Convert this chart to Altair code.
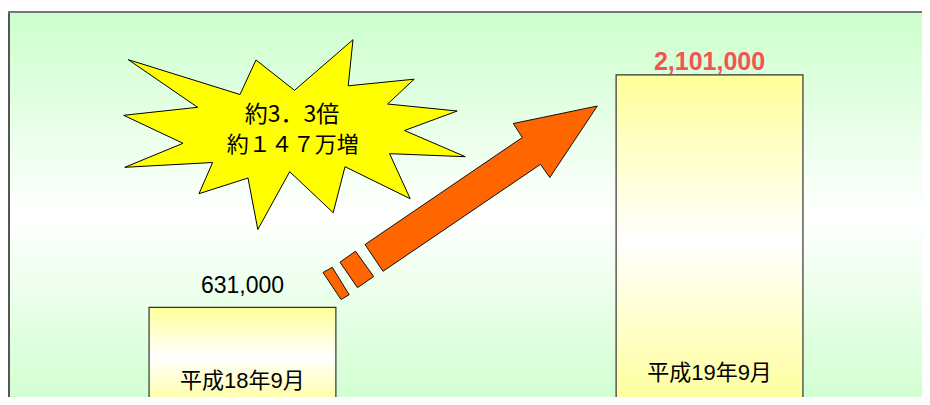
import altair as alt
import pandas as pd

# ---- data ----
categories = ["平成18年9月", "平成19年9月"]
values = [631000, 2101000]
value_labels = ["631,000", "2,101,000"]

burst_lines = ["約3．3倍", "約１４７万増"]

# starburst outline (picture coordinates)
burst_x = [128.3, 240.0, 256.0, 294.5, 353.0, 348.2, 414.2, 387.6, 457.2, 404.5,
           465.3, 389.6, 410.2, 345.0, 333.2, 289.7, 257.8, 248.0, 199.0, 212.6,
           124.8, 183.0, 123.7, 197.6]
burst_y = [59.7, 94.5, 60.0, 90.3, 39.7, 85.8, 79.2, 104.0, 111.0, 130.5,
           156.7, 153.7, 198.7, 166.7, 212.7, 171.7, 229.5, 178.0, 193.7, 162.5,
           167.3, 143.3, 115.3, 107.3]

# arrow pieces (picture coordinates)
arrow_main_x = [365.0, 522.3, 513.3, 597.3, 549.8, 540.5, 383.0]
arrow_main_y = [244.5, 137.5, 123.5, 106.0, 177.5, 164.3, 271.3]
dash2_x = [340.0, 355.5, 373.7, 357.5]
dash2_y = [262.2, 251.2, 276.5, 287.7]
dash1_x = [323.0, 332.3, 349.2, 341.0]
dash1_y = [272.5, 267.3, 294.7, 299.5]

W, H = 914, 389
YLO, YHI = 63280, 2524800


def poly(xs, ys, name):
    rows = []
    pts = list(zip(xs, ys)) + [(xs[0], ys[0])]
    for i, (a, b) in enumerate(pts):
        rows.append({"px": a, "py": b, "i": i, "piece": name})
    return rows


bars_df = pd.DataFrame({"cat": categories, "val": values, "lab": value_labels,
                        "idx": [0, 1], "zero": [0, 0]})
burst_df = pd.DataFrame(poly(burst_x, burst_y, "burst"))
arrow_df = pd.DataFrame(poly(arrow_main_x, arrow_main_y, "main")
                        + poly(dash2_x, dash2_y, "d2")
                        + poly(dash1_x, dash1_y, "d1"))

# ---- scales ----
band = alt.Scale(paddingInner=0.6, paddingOuter=0.2785, align=0.5423)
xb = alt.X("cat:N", sort=categories, axis=None, scale=band)
yscale = alt.Scale(domain=[YLO, YHI], nice=False, zero=False)
yb = alt.Y("val:Q", axis=None, scale=yscale)
y0 = alt.Y("zero:Q", axis=None, scale=yscale)

sx = alt.X("px:Q", axis=None, scale=alt.Scale(domain=[8, 8 + W], nice=False, zero=False))
sy = alt.Y("py:Q", axis=None, scale=alt.Scale(domain=[8, 8 + H], nice=False, zero=False, reverse=True))

frame_grad = alt.Gradient(gradient="linear", x1=0, y1=0, x2=0, y2=1, stops=[
    alt.GradientStop(offset=0, color="#ccffcc"),
    alt.GradientStop(offset=0.5, color="#ffffff"),
    alt.GradientStop(offset=1, color="#ccffcc"),
])
bar_grad = alt.Gradient(gradient="linear", x1=0, y1=0, x2=0, y2=1, stops=[
    alt.GradientStop(offset=0, color="#ffff99"),
    alt.GradientStop(offset=0.5, color="#ffffff"),
    alt.GradientStop(offset=1, color="#ffff99"),
])

one = alt.Data(values=[{"a": 1}])
frame = alt.Chart(one).mark_rect(fill=frame_grad, strokeWidth=0).encode(
    x=alt.value(1), x2=alt.value(W + 20), y=alt.value(4), y2=alt.value(412))
left_edge = alt.Chart(one).mark_rule(color="#555555", strokeWidth=2).encode(
    x=alt.value(1), y=alt.value(3), y2=alt.value(H + 20))
top_edge = alt.Chart(one).mark_rule(color="#777777", strokeWidth=2).encode(
    x=alt.value(0), x2=alt.value(W + 20), y=alt.value(4))

base = alt.Chart(bars_df)
bars = base.mark_bar(fill=bar_grad, stroke="#333333", strokeWidth=1.2).encode(
    x=xb, y=yb, y2=alt.Y2("zero:Q"))

lab1 = base.transform_filter(alt.datum.idx == 0).mark_text(
    font="Liberation Sans", fontSize=23, color="#000000", baseline="alphabetic", dy=-14
).encode(x=xb, y=yb, text="lab:N")
lab2 = base.transform_filter(alt.datum.idx == 1).mark_text(
    font="Liberation Sans", fontSize=25, fontWeight="bold", color="#f25454",
    baseline="alphabetic", dy=-5
).encode(x=xb, y=yb, text="lab:N")

cat1 = base.transform_filter(alt.datum.idx == 0).mark_text(
    font="Liberation Sans, Noto Sans CJK JP", fontSize=22, color="#000000",
    baseline="middle", dy=-26
).encode(x=xb, y=y0, text="cat:N")
cat2 = base.transform_filter(alt.datum.idx == 1).mark_text(
    font="Liberation Sans, Noto Sans CJK JP", fontSize=22, color="#000000",
    baseline="middle", dy=-34
).encode(x=xb, y=y0, text="cat:N")

bar_layer = alt.layer(bars, lab1, lab2, cat1, cat2)

burst = alt.Chart(burst_df).mark_line(
    fill="#ffff00", stroke="#000000", strokeWidth=1, strokeJoin="miter"
).encode(x=sx, y=sy, order="i:Q")
arrow = alt.Chart(arrow_df).mark_line(
    fill="#ff6600", stroke="#111111", strokeWidth=1, strokeJoin="miter"
).encode(x=sx, y=sy, order="i:Q", detail="piece:N")

shape_layer = alt.layer(arrow, burst)

t1 = alt.Chart(alt.Data(values=[{"t": burst_lines[0]}])).mark_text(
    font="Noto Sans CJK JP", fontSize=23, color="#000000", baseline="middle"
).encode(x=alt.value(284), y=alt.value(106.5), text="t:N")
t2 = alt.Chart(alt.Data(values=[{"t": burst_lines[1]}])).mark_text(
    font="Noto Sans CJK JP", fontSize=22, color="#000000", baseline="middle"
).encode(x=alt.value(284.7), y=alt.value(136.7), text="t:N")

chart = alt.layer(frame, left_edge, top_edge, bar_layer, shape_layer, t1, t2).resolve_scale(
    x="independent", y="independent"
).properties(
    width=W, height=H, padding=0, background="#ffffff",
    autosize=alt.AutoSizeParams(type="none"),
    view=alt.ViewBackground(strokeWidth=0, strokeOpacity=0),
).configure_view(strokeWidth=0, strokeOpacity=0)

chart.save("out.html", embed_options={"renderer": "svg", "actions": False})
